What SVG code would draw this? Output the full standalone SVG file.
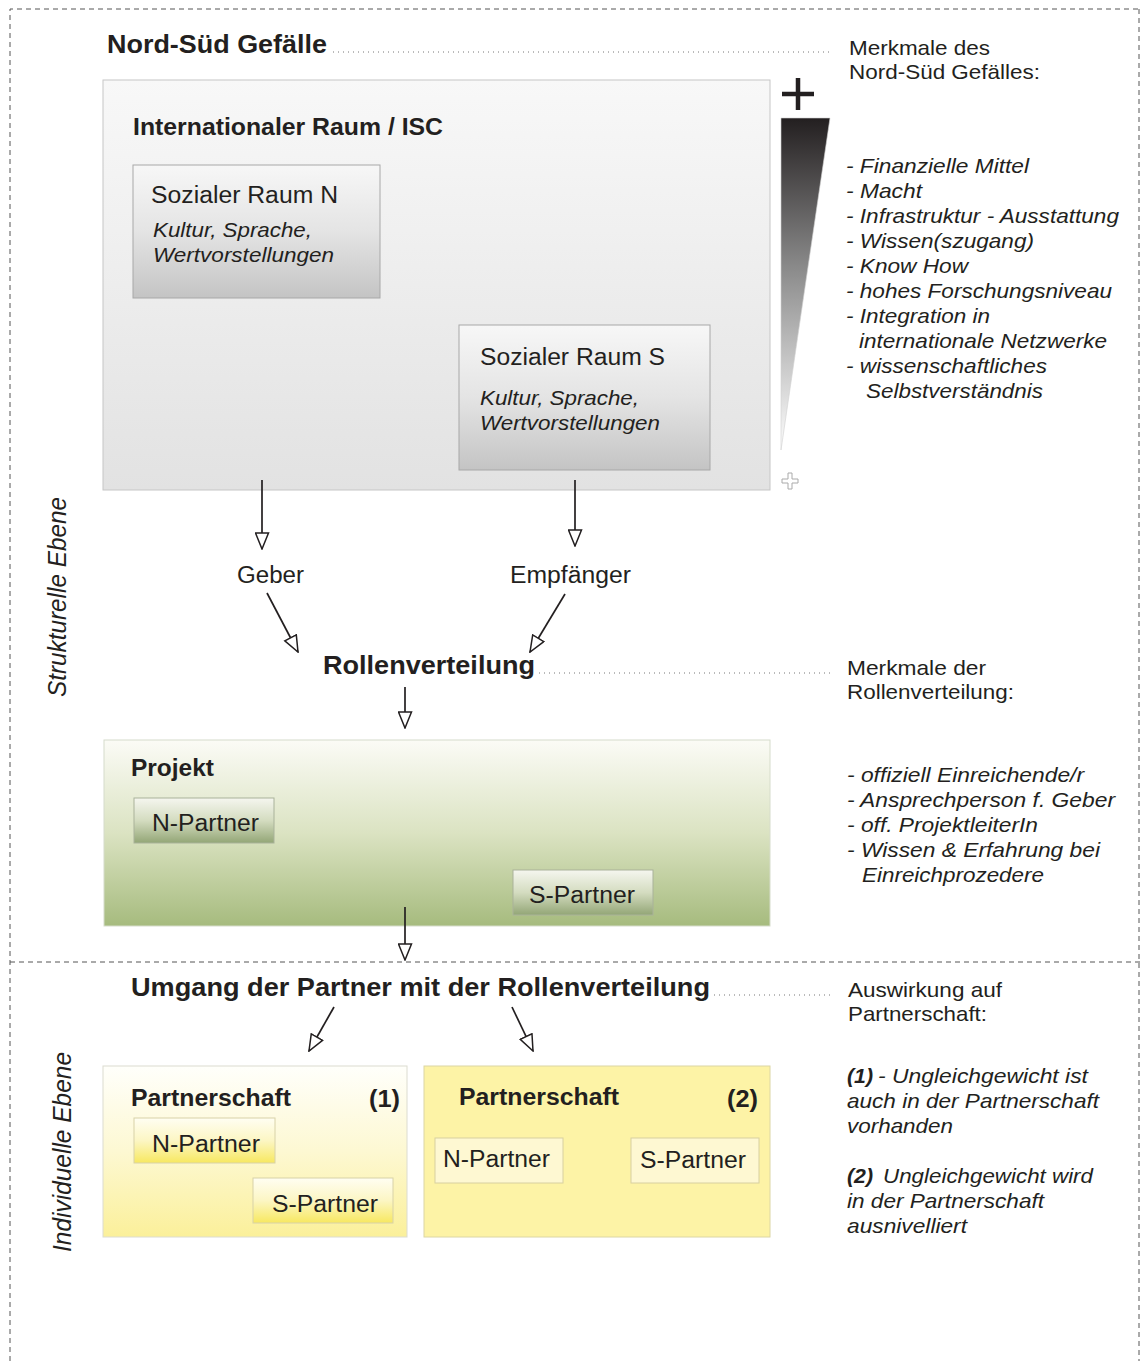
<svg xmlns="http://www.w3.org/2000/svg" width="1142" height="1361" viewBox="0 0 1142 1361">
<style>
text{font-family:"Liberation Sans",Arial,sans-serif;fill:#231f20}
.b{font-weight:bold}
.i{font-style:italic}
.t24{font-size:25px}
.t22{font-size:23px}
.t20{font-size:21px}
.dash{fill:none;stroke:#555;stroke-width:1;stroke-dasharray:5 4}
.dot{fill:none;stroke:#777;stroke-width:1;stroke-dasharray:1 4}
.conn{fill:none;stroke:#231f20;stroke-width:1.7;marker-end:url(#ah)}
</style>
<defs>
<marker id="ah" markerWidth="18" markerHeight="15" refX="17" refY="7.5" orient="auto" markerUnits="userSpaceOnUse" viewBox="0 0 18 15"><path d="M1,1 L17,7.5 L1,14 Z" fill="#fff" stroke="#231f20" stroke-width="1.5"/></marker>
<linearGradient id="gBig" x1="0" y1="0" x2="0" y2="1"><stop offset="0" stop-color="#f8f8f8"/><stop offset="1" stop-color="#e2e2e2"/></linearGradient>
<linearGradient id="gSoz" x1="0" y1="0" x2="0" y2="1"><stop offset="0" stop-color="#f7f7f7"/><stop offset="0.5" stop-color="#e4e4e4"/><stop offset="1" stop-color="#c4c4c4"/></linearGradient>
<linearGradient id="gTri" x1="0" y1="0" x2="0" y2="1"><stop offset="0" stop-color="#231f20"/><stop offset="0.45" stop-color="#8a8a8a"/><stop offset="1" stop-color="#ffffff"/></linearGradient>
<linearGradient id="gProj" x1="0" y1="0" x2="0" y2="1"><stop offset="0" stop-color="#fbfbf6"/><stop offset="0.5" stop-color="#dbe3c2"/><stop offset="1" stop-color="#a6bb7e"/></linearGradient>
<linearGradient id="gPP" x1="0" y1="0" x2="0" y2="1"><stop offset="0" stop-color="#f5f6ef"/><stop offset="0.5" stop-color="#d4dcc0"/><stop offset="1" stop-color="#93a676"/></linearGradient>
<linearGradient id="gP1" x1="0" y1="0" x2="0" y2="1"><stop offset="0" stop-color="#fffffb"/><stop offset="0.5" stop-color="#fdf8d2"/><stop offset="1" stop-color="#fbf09a"/></linearGradient>
<linearGradient id="gP1b" x1="0" y1="0" x2="0" y2="1"><stop offset="0" stop-color="#fffef2"/><stop offset="0.5" stop-color="#fcf6c4"/><stop offset="1" stop-color="#f7e860"/></linearGradient>
</defs>

<g id="frame">
<path class="dash" d="M10,1361 L10,9 L1142,9"/>
<path class="dash" d="M1139,9 L1139,1361"/>
<path class="dash" d="M10,962 L1142,962"/>
</g>

<g id="labels-ebene">
<text class="i t24" transform="translate(66,597) rotate(-90)" text-anchor="middle" textLength="200" lengthAdjust="spacingAndGlyphs">Strukturelle Ebene</text>
<text class="i t24" transform="translate(71,1152) rotate(-90)" text-anchor="middle" textLength="200" lengthAdjust="spacingAndGlyphs">Individuelle Ebene</text>
</g>

<g id="title-nordsued">
<text class="b t24" x="107" y="53" textLength="220" lengthAdjust="spacingAndGlyphs">Nord-Süd Gefälle</text>
<line class="dot" x1="333" y1="52" x2="832" y2="52"/>
</g>

<g id="internationaler-raum">
<rect x="103" y="80" width="667" height="410" fill="url(#gBig)" stroke="#c6c6c6" stroke-width="1"/>
<text class="b t22" x="133" y="135" textLength="310" lengthAdjust="spacingAndGlyphs">Internationaler Raum / ISC</text>
</g>

<g id="sozialer-raum-n">
<rect x="133" y="165" width="247" height="133" fill="url(#gSoz)" stroke="#a8a8a8" stroke-width="1"/>
<text class="t22" x="151" y="203" textLength="187" lengthAdjust="spacingAndGlyphs">Sozialer Raum N</text>
<text class="i t20" x="153" y="237" textLength="159" lengthAdjust="spacingAndGlyphs">Kultur, Sprache,</text>
<text class="i t20" x="153" y="262" textLength="181" lengthAdjust="spacingAndGlyphs">Wertvorstellungen</text>
</g>

<g id="sozialer-raum-s">
<rect x="459" y="325" width="251" height="145" fill="url(#gSoz)" stroke="#a8a8a8" stroke-width="1"/>
<text class="t22" x="480" y="365" textLength="185" lengthAdjust="spacingAndGlyphs">Sozialer Raum S</text>
<text class="i t20" x="480" y="405" textLength="159" lengthAdjust="spacingAndGlyphs">Kultur, Sprache,</text>
<text class="i t20" x="480" y="430" textLength="180" lengthAdjust="spacingAndGlyphs">Wertvorstellungen</text>
</g>

<g id="gefaelle-keil">
<path d="M798,78 V110 M782,94 H814" stroke="#231f20" stroke-width="4.5" fill="none"/>
<path d="M781,118 L830,118 L781,450 Z" fill="url(#gTri)" stroke="#d0d0d0" stroke-width="0.6"/>
<path d="M788,473 h4 v6 h6 v4 h-6 v6 h-4 v-6 h-6 v-4 h6 Z" fill="#fff" stroke="#aaa" stroke-width="1"/>
</g>

<g id="merkmale-gefaelle">
<text class="t20" x="849" y="55" textLength="141" lengthAdjust="spacingAndGlyphs">Merkmale des</text>
<text class="t20" x="849" y="79" textLength="191" lengthAdjust="spacingAndGlyphs">Nord-Süd Gefälles:</text>
<text class="i t20" x="846" y="173" textLength="183" lengthAdjust="spacingAndGlyphs">- Finanzielle Mittel</text>
<text class="i t20" x="846" y="198" textLength="76" lengthAdjust="spacingAndGlyphs">- Macht</text>
<text class="i t20" x="846" y="223" textLength="273" lengthAdjust="spacingAndGlyphs">- Infrastruktur - Ausstattung</text>
<text class="i t20" x="846" y="248" textLength="188" lengthAdjust="spacingAndGlyphs">- Wissen(szugang)</text>
<text class="i t20" x="846" y="273" textLength="122" lengthAdjust="spacingAndGlyphs">- Know How</text>
<text class="i t20" x="846" y="298" textLength="266" lengthAdjust="spacingAndGlyphs">- hohes Forschungsniveau</text>
<text class="i t20" x="846" y="323" textLength="144" lengthAdjust="spacingAndGlyphs">- Integration in</text>
<text class="i t20" x="859" y="348" textLength="248" lengthAdjust="spacingAndGlyphs">internationale Netzwerke</text>
<text class="i t20" x="846" y="373" textLength="201" lengthAdjust="spacingAndGlyphs">- wissenschaftliches</text>
<text class="i t20" x="866" y="398" textLength="177" lengthAdjust="spacingAndGlyphs">Selbstverständnis</text>
</g>

<g id="geber">
<text class="t22" x="237" y="583" textLength="67" lengthAdjust="spacingAndGlyphs">Geber</text>
</g>
<g id="empfaenger">
<text class="t22" x="510" y="583" textLength="121" lengthAdjust="spacingAndGlyphs">Empfänger</text>
</g>

<g id="rollenverteilung">
<text class="b t24" x="323" y="674" textLength="212" lengthAdjust="spacingAndGlyphs">Rollenverteilung</text>
<line class="dot" x1="539" y1="673" x2="832" y2="673"/>
</g>

<g id="merkmale-rollen">
<text class="t20" x="847" y="675" textLength="139" lengthAdjust="spacingAndGlyphs">Merkmale der</text>
<text class="t20" x="847" y="699" textLength="167" lengthAdjust="spacingAndGlyphs">Rollenverteilung:</text>
<text class="i t20" x="847" y="782" textLength="237" lengthAdjust="spacingAndGlyphs">- offiziell Einreichende/r</text>
<text class="i t20" x="847" y="807" textLength="268" lengthAdjust="spacingAndGlyphs">- Ansprechperson f. Geber</text>
<text class="i t20" x="847" y="832" textLength="191" lengthAdjust="spacingAndGlyphs">- off. ProjektleiterIn</text>
<text class="i t20" x="847" y="857" textLength="253" lengthAdjust="spacingAndGlyphs">- Wissen &amp; Erfahrung bei</text>
<text class="i t20" x="862" y="882" textLength="182" lengthAdjust="spacingAndGlyphs">Einreichprozedere</text>
</g>

<g id="projekt">
<rect x="104" y="740" width="666" height="186" fill="url(#gProj)" stroke="#d6dccb" stroke-width="1"/>
<text class="b t22" x="131" y="776" textLength="83" lengthAdjust="spacingAndGlyphs">Projekt</text>
</g>
<g id="projekt-n-partner">
<rect x="134" y="798" width="140" height="45" fill="url(#gPP)" stroke="#a9b29a" stroke-width="1"/>
<text class="t22" x="152" y="831" textLength="107" lengthAdjust="spacingAndGlyphs">N-Partner</text>
</g>
<g id="projekt-s-partner">
<rect x="513" y="870" width="140" height="45" fill="url(#gPP)" stroke="#a9b29a" stroke-width="1"/>
<text class="t22" x="529" y="903" textLength="106" lengthAdjust="spacingAndGlyphs">S-Partner</text>
</g>

<g id="umgang">
<text class="b t24" x="131" y="996" textLength="579" lengthAdjust="spacingAndGlyphs">Umgang der Partner mit der Rollenverteilung</text>
<line class="dot" x1="714" y1="995" x2="832" y2="995"/>
</g>

<g id="auswirkung">
<text class="t20" x="848" y="997" textLength="154" lengthAdjust="spacingAndGlyphs">Auswirkung auf</text>
<text class="t20" x="848" y="1021" textLength="139" lengthAdjust="spacingAndGlyphs">Partnerschaft:</text>
<text class="b i t20" x="847" y="1083" textLength="26" lengthAdjust="spacingAndGlyphs">(1)</text>
<text class="i t20" x="878" y="1083" textLength="210" lengthAdjust="spacingAndGlyphs">- Ungleichgewicht ist</text>
<text class="i t20" x="847" y="1108" textLength="252" lengthAdjust="spacingAndGlyphs">auch in der Partnerschaft</text>
<text class="i t20" x="847" y="1133" textLength="106" lengthAdjust="spacingAndGlyphs">vorhanden</text>
<text class="b i t20" x="847" y="1183" textLength="26" lengthAdjust="spacingAndGlyphs">(2)</text>
<text class="i t20" x="883" y="1183" textLength="210" lengthAdjust="spacingAndGlyphs">Ungleichgewicht wird</text>
<text class="i t20" x="847" y="1208" textLength="197" lengthAdjust="spacingAndGlyphs">in der Partnerschaft</text>
<text class="i t20" x="847" y="1233" textLength="120" lengthAdjust="spacingAndGlyphs">ausnivelliert</text>
</g>

<g id="partnerschaft-1">
<rect x="103" y="1066" width="304" height="171" fill="url(#gP1)" stroke="#dcdcd0" stroke-width="1"/>
<text class="b t22" x="131" y="1106" textLength="160" lengthAdjust="spacingAndGlyphs">Partnerschaft</text>
<text class="b t22" x="369" y="1107" textLength="31" lengthAdjust="spacingAndGlyphs">(1)</text>
</g>
<g id="p1-n-partner">
<rect x="134" y="1118" width="141" height="45" fill="url(#gP1b)" stroke="#d8d2a8" stroke-width="1"/>
<text class="t22" x="152" y="1152" textLength="108" lengthAdjust="spacingAndGlyphs">N-Partner</text>
</g>
<g id="p1-s-partner">
<rect x="253" y="1178" width="140" height="45" fill="url(#gP1b)" stroke="#d8d2a8" stroke-width="1"/>
<text class="t22" x="272" y="1212" textLength="106" lengthAdjust="spacingAndGlyphs">S-Partner</text>
</g>

<g id="partnerschaft-2">
<rect x="424" y="1066" width="346" height="171" fill="#fdf3a6" stroke="#dcd6a4" stroke-width="1"/>
<text class="b t22" x="459" y="1105" textLength="160" lengthAdjust="spacingAndGlyphs">Partnerschaft</text>
<text class="b t22" x="727" y="1107" textLength="31" lengthAdjust="spacingAndGlyphs">(2)</text>
</g>
<g id="p2-n-partner">
<rect x="435" y="1138" width="128" height="45" fill="#fef8d2" stroke="#d8d0a0" stroke-width="1"/>
<text class="t22" x="443" y="1167" textLength="107" lengthAdjust="spacingAndGlyphs">N-Partner</text>
</g>
<g id="p2-s-partner">
<rect x="631" y="1138" width="128" height="45" fill="#fef8d2" stroke="#d8d0a0" stroke-width="1"/>
<text class="t22" x="640" y="1168" textLength="106" lengthAdjust="spacingAndGlyphs">S-Partner</text>
</g>

<g id="connectors">
<line class="conn" x1="262" y1="480" x2="262" y2="549"/>
<line class="conn" x1="575" y1="480" x2="575" y2="546"/>
<line class="conn" x1="267" y1="593" x2="298" y2="652"/>
<line class="conn" x1="565" y1="594" x2="530" y2="652"/>
<line class="conn" x1="405" y1="687" x2="405" y2="728"/>
<line class="conn" x1="405" y1="907" x2="405" y2="960"/>
<line class="conn" x1="334" y1="1007" x2="309" y2="1051"/>
<line class="conn" x1="512" y1="1007" x2="533" y2="1051"/>
</g>
</svg>
